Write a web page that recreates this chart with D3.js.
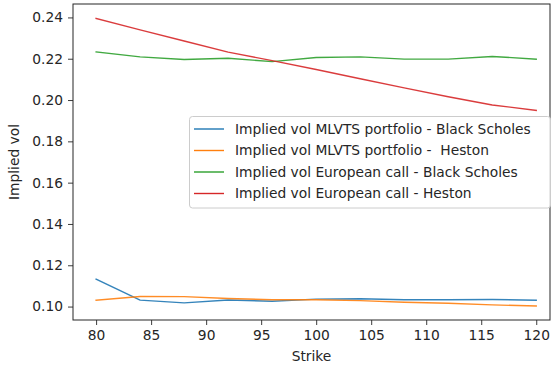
<!DOCTYPE html>
<html><head><meta charset="utf-8">
<script src="https://cdn.jsdelivr.net/npm/d3@7"></script>
<style>body{margin:0;background:#fff}svg{display:block}text{font-family:"DejaVu Sans",sans-serif;fill:#262626}</style>
</head><body><svg id="c" width="554" height="369"></svg>
<script>
const strikes = [80, 84, 88, 92, 96, 100, 104, 108, 112, 116, 120];
const mlvtsBS = [0.1133, 0.1031, 0.1018, 0.1032, 0.1026, 0.1036, 0.1038, 0.1033, 0.1033, 0.1034, 0.1031];
const mlvtsHeston = [0.1031, 0.1049, 0.1048, 0.1039, 0.1033, 0.1033, 0.1029, 0.1021, 0.1016, 0.1008, 0.1003];
const euroBS = [0.2233, 0.2209, 0.2196, 0.2202, 0.2186, 0.2206, 0.2209, 0.2198, 0.2198, 0.2211, 0.2198];
const euroHeston = [0.2395, 0.2340, 0.2286, 0.2232, 0.2191, 0.2148, 0.2103, 0.2059, 0.2016, 0.1976, 0.1950];
const seriesNames = ["Implied vol MLVTS portfolio - Black Scholes", "Implied vol MLVTS portfolio -  Heston", "Implied vol European call - Black Scholes", "Implied vol European call - Heston"];
const colors = ["#1f77b4", "#ff7f0e", "#2ca02c", "#d62728"];
const xTicks = [80, 85, 90, 95, 100, 105, 110, 115, 120];
const yTicks = [0.10, 0.12, 0.14, 0.16, 0.18, 0.20, 0.22, 0.24];

const FS = 13.8;
const svg = d3.select("#c");
const L = 73, R = 550, T = 4, B = 320;
const x = d3.scaleLinear().domain([77.9, 121.25]).range([L, R]);
const y = d3.scaleLinear().domain([0.0935, 0.2465]).range([B, T]);

const allSeries = [mlvtsBS, mlvtsHeston, euroBS, euroHeston];
const line = d3.line().x((d, i) => x(strikes[i])).y(d => y(d));
allSeries.forEach((s, k) => {
  svg.append("path").datum(s).attr("d", line).attr("fill", "none")
    .attr("stroke", colors[k]).attr("stroke-width", 1.4).attr("stroke-opacity", 0.9).attr("stroke-linejoin", "round").attr("stroke-linecap", "square");
});

const xa = svg.append("g").attr("transform", `translate(0,${B})`)
  .call(d3.axisBottom(x).tickValues(xTicks).tickFormat(d3.format("d")).tickSize(5).tickPadding(5));
const ya = svg.append("g").attr("transform", `translate(${L},0)`)
  .call(d3.axisLeft(y).tickValues(yTicks).tickFormat(d3.format(".2f")).tickSize(5).tickPadding(5));
[xa, ya].forEach(a => {
  a.select(".domain").remove();
  a.selectAll("line").attr("stroke", "#262626").attr("stroke-width", 0.9);
  a.selectAll("text").attr("font-size", FS).attr("fill", "#262626").style("font-family", "DejaVu Sans");
});

svg.append("rect").attr("x", L).attr("y", T).attr("width", R - L).attr("height", B - T)
  .attr("fill", "none").attr("stroke", "#262626").attr("stroke-width", 1);

svg.append("text").attr("x", (L + R) / 2).attr("y", 361).attr("text-anchor", "middle").attr("font-size", FS).text("Strike");
svg.append("text").attr("transform", `translate(19,${(T + B) / 2}) rotate(-90)`).attr("text-anchor", "middle").attr("font-size", FS).text("Implied vol");

const lg = svg.append("g");
lg.append("rect").attr("x", 189.5).attr("y", 116.5).attr("width", 361).attr("height", 91.5).attr("rx", 3)
  .attr("fill", "#fff").attr("fill-opacity", 0.8).attr("stroke", "#ccc").attr("stroke-width", 1);
seriesNames.forEach((n, k) => {
  const yy = 129 + k * 21.5;
  lg.append("line").attr("x1", 194).attr("x2", 224).attr("y1", yy).attr("y2", yy).attr("stroke", colors[k]).attr("stroke-width", 1.4);
  lg.append("text").attr("x", 235).attr("y", yy + 4.8).attr("font-size", FS).style("white-space", "pre").text(n);
});
</script></body></html>
